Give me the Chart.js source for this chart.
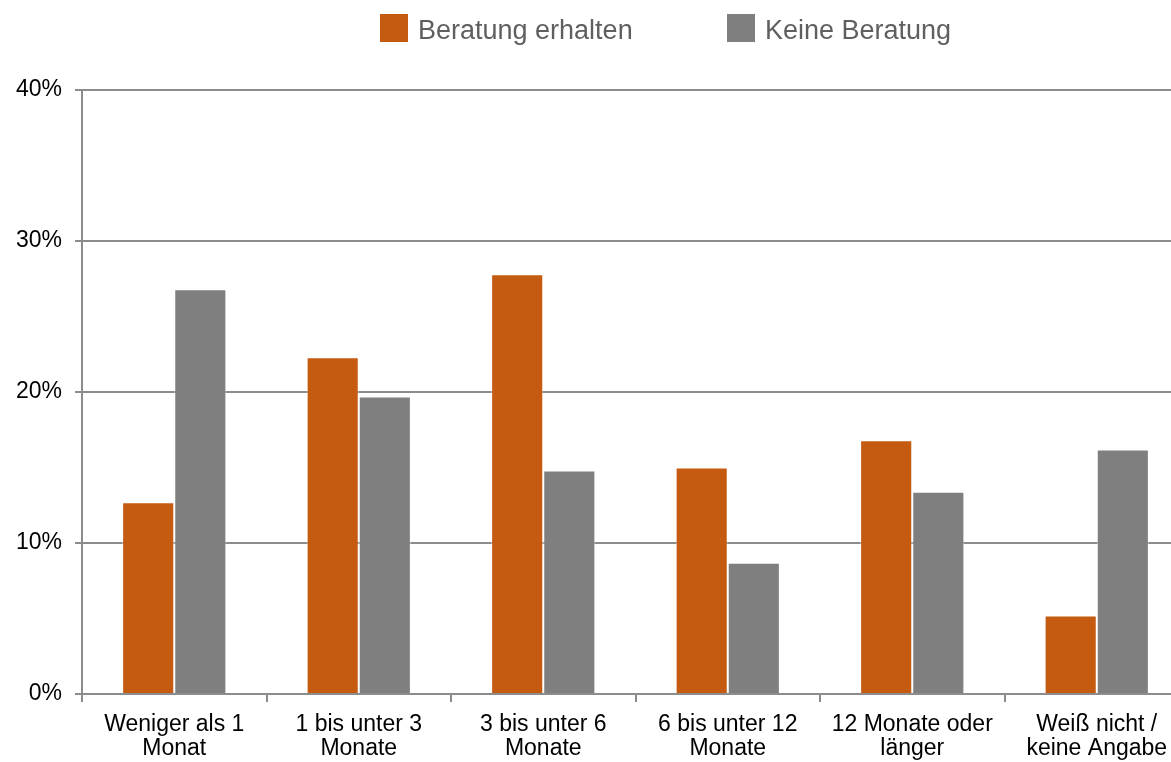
<!DOCTYPE html>
<html>
<head>
<meta charset="utf-8">
<script src="https://cdn.jsdelivr.net/npm/chart.js@4/dist/chart.umd.min.js"></script>
<style>
  html, body { margin: 0; padding: 0; background: #fff; overflow: hidden; width: 1171px; height: 762px; }
  #wrap { position: absolute; left: 0; top: 0; width: 1190px; height: 762px; }
  .lg-box { position: absolute; top: 14px; width: 28px; height: 28px; }
  .lg-text { position: absolute; top: 15px; line-height: 28px; font: 27px "Liberation Sans", Arial, sans-serif; color: #5f5f5f; white-space: nowrap; }
</style>
</head>
<body>
<div id="wrap"><canvas id="chart" width="1190" height="762"></canvas></div>
<div class="lg-box" style="left:380px;background:#C55A11"></div>
<div class="lg-text" style="left:418px">Beratung erhalten</div>
<div class="lg-box" style="left:727px;background:#7F7F7F"></div>
<div class="lg-text" style="left:765px">Keine Beratung</div>
<script>
// Kategorien und Werte (in Prozent)
const categories = [
    ['Weniger als 1', 'Monat'],
    ['1 bis unter 3', 'Monate'],
    ['3 bis unter 6', 'Monate'],
    ['6 bis unter 12', 'Monate'],
    ['12 Monate oder', 'länger'],
    ['Weiß nicht /', 'keine Angabe']
];
const beratungErhalten = [12.7, 22.3, 27.8, 15.0, 16.8, 5.2];
const keineBeratung = [26.8, 19.7, 14.8, 8.7, 13.4, 16.2];
const seriesLabels = ['Beratung erhalten', 'Keine Beratung'];
const yTicks = [0, 10, 20, 30, 40];

const gridColor = '#8c8c8c';
const tickFont = { family: '"Liberation Sans", Arial, sans-serif', size: 23, lineHeight: '24.5px' };

var ctx = document.getElementById('chart').getContext('2d');
var myChart = new Chart(ctx, {
    type: 'bar',
    data: {
        labels: categories,
        datasets: [
            {
                label: seriesLabels[0],
                data: beratungErhalten,
                backgroundColor: '#C55A11',
                borderColor: 'rgba(255,255,255,0.45)',
                borderWidth: 1,
                categoryPercentage: 0.565,
                barPercentage: 1.0
            },
            {
                label: seriesLabels[1],
                data: keineBeratung,
                backgroundColor: '#7F7F7F',
                borderColor: 'rgba(255,255,255,0.45)',
                borderWidth: 1,
                categoryPercentage: 0.565,
                barPercentage: 1.0
            }
        ]
    },
    options: {
        responsive: false,
        animation: false,
        layout: { padding: { top: 90, right: 1, bottom: 0, left: 0 } },
        plugins: {
            legend: { display: false },
            tooltip: { enabled: false }
        },
        scales: {
            x: {
                grid: { display: true, drawOnChartArea: false, drawTicks: true, tickLength: 8, color: gridColor, lineWidth: 2 },
                border: { display: true, color: gridColor, width: 2 },
                ticks: { color: '#000', font: tickFont, padding: 10, maxRotation: 0, autoSkip: false },
                afterFit: function (scale) { scale.height = 68; }
            },
            y: {
                min: 0,
                max: 40,
                afterBuildTicks: function (scale) { scale.ticks = yTicks.map(v => ({ value: v })); },
                grid: { color: gridColor, lineWidth: 2, tickLength: 7 },
                border: { display: true, color: gridColor, width: 2 },
                ticks: { color: '#000', font: tickFont, padding: 13, callback: v => v + '%' },
                afterFit: function (scale) { scale.width = 82; }
            }
        }
    }
});
</script>
</body>
</html>
